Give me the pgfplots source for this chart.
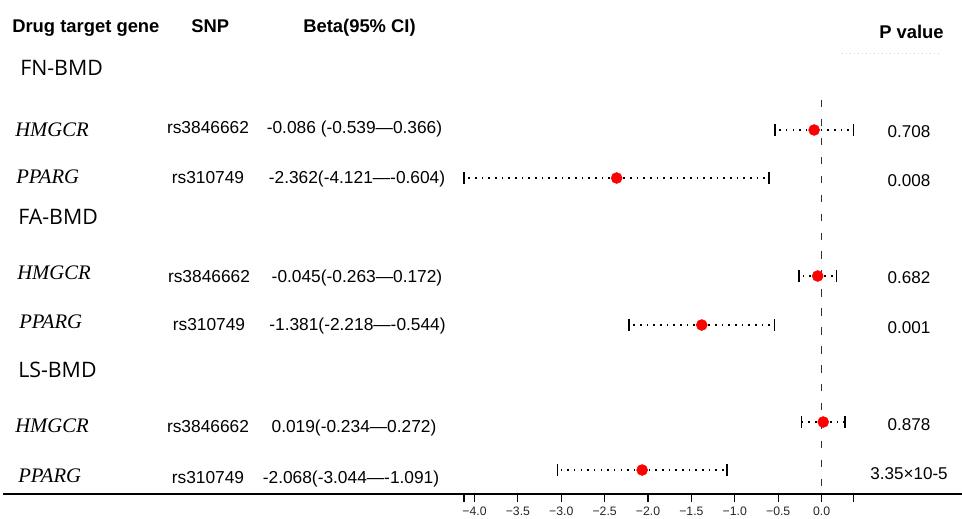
\documentclass[border=0pt]{standalone}
\usepackage{fontspec}
\setmainfont{Liberation Sans}
\newfontfamily\genefont{Liberation Serif}
\newfontfamily\grpfont{Open Sans}
\usepackage{pgfplots}
\pgfplotsset{compat=1.18}
\usepackage{pgfplotstable}

% y = vertical position of the row (layout), b = beta, lo/hi = 95% CI
\pgfplotstableread{
y b lo hi
-130 -0.086 -0.539 0.366
-178 -2.362 -4.121 -0.604
-276 -0.045 -0.263 0.172
-325 -1.381 -2.218 -0.544
-422 0.019 -0.234 0.272
-470 -2.068 -3.044 -1.091
}\mrdata

\begin{document}
\begin{tikzpicture}
\useasboundingbox (0,0) rectangle (721.5pt,-388.5pt);
\begin{axis}[
  at={(348pt,-370.5pt)}, anchor=south west,
  scale only axis, width=292pt, height=370.5pt,
  xmin=-4.121, xmax=0.366, ymin=-494, ymax=0,
  enlargelimits=false,
  axis x line*=bottom, axis y line=none,
  x axis line style={draw=none},
  xtick={-4.121,-4,-3.5,-3,-2.5,-2,-1.5,-1,-0.5,0,0.366},
  xticklabels={,−4.0,−3.5,−3.0,−2.5,−2.0,−1.5,−1.0,−0.5,0.0,},
  tick align=outside, major tick length=6pt,
  tick style={black, line width=0.9pt},
  xticklabel style={font=\fontsize{9.2pt}{10pt}\selectfont, text=black!85},
  clip=false,
]
\addplot[black!80, line width=1.2pt, dash pattern=on 5.6pt off 8.6pt] coordinates {(0,-100) (0,-494)};
\addplot[only marks, mark=*, mark size=4.1pt, color=red,
  error bars/.cd, x dir=both, x explicit,
  error bar style={black, line width=1pt, dash pattern=on 1.2pt off 3.8pt},
  error mark options={black, solid, rotate=90, line width=1.1pt, mark size=4.3pt}]
  table[x=b, y=y, x error plus expr=\thisrow{hi}-\thisrow{b}, x error minus expr=\thisrow{b}-\thisrow{lo}] {\mrdata};
\end{axis}

\begin{scope}[x=0.75pt, y=-0.75pt, every node/.style={inner sep=0pt}]
  \draw[line width=1.1pt] (3,494) -- (962,494);
  \draw[gray!35, line width=0.6pt, dash pattern=on 1pt off 2pt] (842,53) -- (940,53);
  % headers
  \begin{scope}[every node/.append style={font=\fontsize{13.8pt}{16pt}\selectfont\bfseries}]
    \node[anchor=base west] at (12,32) {Drug target gene};
    \node[anchor=base west] at (191,32) {SNP};
    \node[anchor=base west] at (303,32) {Beta(95\% CI)};
    \node[anchor=base west] at (879,38) {P value};
  \end{scope}
  % groups
  \begin{scope}[every node/.append style={anchor=base west, font=\grpfont\fontsize{16pt}{18pt}\selectfont}]
    \node at (20,75) {FN-BMD};
    \node at (18,224) {FA-BMD};
    \node at (18,377) {LS-BMD};
  \end{scope}
  % genes
  \begin{scope}[every node/.append style={anchor=base west, font=\genefont\itshape\fontsize{15.5pt}{17pt}\selectfont}]
    \node at (15,136) {HMGCR};
    \node at (16,183) {PPARG};
    \node at (17,279) {HMGCR};
    \node at (19,328) {PPARG};
    \node at (15,432) {HMGCR};
    \node at (18,482) {PPARG};
  \end{scope}
  % SNPs
  \begin{scope}[every node/.append style={anchor=base, font=\fontsize{13pt}{15pt}\selectfont}]
    \node at (208,133) {rs3846662};
    \node at (208,183) {rs310749};
    \node at (209,282) {rs3846662};
    \node at (209,330) {rs310749};
    \node at (208,432) {rs3846662};
    \node at (208,483) {rs310749};
  \end{scope}
  % beta
  \begin{scope}[every node/.append style={anchor=base, font=\fontsize{13pt}{15pt}\selectfont}]
    \node at (354.5,133) {-0.086 (-0.539—0.366)};
    \node at (357,183) {-2.362(-4.121—-0.604)};
    \node at (357,282) {-0.045(-0.263—0.172)};
    \node at (357.5,330) {-1.381(-2.218—-0.544)};
    \node at (354,432) {0.019(-0.234—0.272)};
    \node at (351,483) {-2.068(-3.044—-1.091)};
  \end{scope}
  % p values
  \begin{scope}[every node/.append style={anchor=base, font=\fontsize{12.8pt}{15pt}\selectfont}]
    \node at (909,137) {0.708};
    \node at (909,186) {0.008};
    \node at (909,283) {0.682};
    \node at (909,333) {0.001};
    \node at (909,430) {0.878};
    \node at (909,479) {3.35×10-5};
  \end{scope}
\end{scope}
\end{tikzpicture}
\end{document}
